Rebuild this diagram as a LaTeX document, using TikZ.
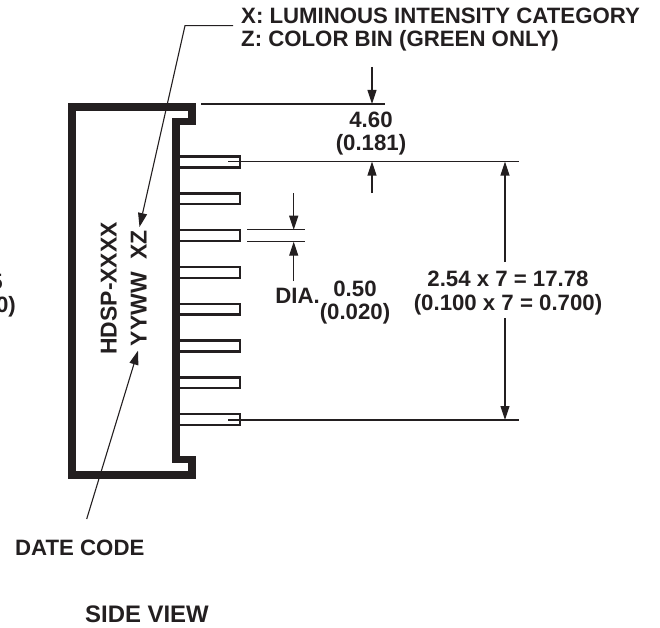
\documentclass[tikz,border=0pt]{standalone}
\usepackage{fontspec}
\setmainfont{Liberation Sans}
\usetikzlibrary{arrows.meta}
\definecolor{ink}{HTML}{231F20}
\tikzset{
  lbl/.style={font=\fontsize{22.3}{24}\bfseries\selectfont,text=ink,inner sep=0pt},
  lblbig/.style={font=\fontsize{24}{26}\bfseries\selectfont,text=ink,inner sep=0pt},
  partmark/.style={font=\fontsize{23}{25}\bfseries\selectfont,text=ink,inner sep=0pt},
  thinline/.style={draw=ink,line width=1.1bp},
  pinbox/.style={draw=ink,line width=2.3bp,fill=white},
  dimarrow/.style={draw=ink,line width=1.1bp,-{Triangle[length=14bp,width=9bp]}}
}
\begin{document}
\begin{tikzpicture}[x=1bp,y=-1bp]
\useasboundingbox (0,0) rectangle (660,628);
% body
\draw[draw=ink,line width=7.5bp,miter limit=4]
  (72,107) -- (192,107) -- (192,121.5) -- (176,121.5) -- (176,459.5) -- (192,459.5) -- (192,475) -- (72,475) -- cycle;
% pins
\foreach \c in {162,198.8,235.6,272.4,309.2,346,382.8,419.6}{
  \draw[pinbox] (180,\c-5.4) -- (240,\c-5.4) -- (240,\c+5.4) -- (180,\c+5.4);
}
% named ends
\coordinate (topA) at (201,104);
\coordinate (topB) at (385,104);
\coordinate (pinA) at (228,161.5);
\coordinate (pinB) at (519,161.5);
\coordinate (lastA) at (228,420);
\coordinate (lastB) at (519,420);
\coordinate (d1A) at (247,229.7);
\coordinate (d1B) at (305,229.7);
\coordinate (d2A) at (247,241.7);
\coordinate (d2B) at (305,241.7);
\draw[thinline] (topA) -- (topB);
\draw[thinline] (pinA) -- (pinB);
\draw[thinline] (lastA) -- (lastB);
\draw[thinline] (d1A) -- (d1B);
\draw[thinline] (d2A) -- (d2B);
% dim arrows
\coordinate (a1) at (372,67);  \coordinate (a1t) at (372,104);
\coordinate (a2) at (372,193); \coordinate (a2t) at (372,161.5);
\coordinate (a3) at (293.7,193); \coordinate (a3t) at (293.7,229.7);
\coordinate (a4) at (293.7,281); \coordinate (a4t) at (293.7,241.7);
\coordinate (b1) at (505,161.5); \coordinate (b2) at (505,420);
\coordinate (g1) at (505,262);   \coordinate (g2) at (505,318);
\draw[dimarrow] (a1) -- (a1t);
\draw[dimarrow] (a2) -- (a2t);
\draw[dimarrow] (a3) -- (a3t);
\draw[dimarrow] (a4) -- (a4t);
\draw[dimarrow] (g1) -- (b1);
\draw[dimarrow] (g2) -- (b2);
% texts
\node[lbl,anchor=base west] (xl) at (241,24) {X: LUMINOUS INTENSITY CATEGORY};
\node[lbl,anchor=base west] (zl) at (241,47) {Z: COLOR BIN (GREEN ONLY)};
\node[lbl,anchor=base] (t1) at (371,127.3) {4.60};
\node[lbl,anchor=base] (t2) at (371,151) {(0.181)};
\node[lbl,anchor=base] (dia) at (297.5,303.3) {DIA.};
\node[lbl,anchor=base] (t3) at (355,296) {0.50};
\node[lbl,anchor=base] (t4) at (355,319) {(0.020)};
\node[lbl,anchor=base] (t5) at (508,286.7) {2.54 x 7 = 17.78};
\node[lbl,anchor=base] (t6) at (508,310) {(0.100 x 7 = 0.700)};
\node[lbl,anchor=base east] (c1) at (3,289) {5};
\node[lbl,anchor=base east] (c2) at (16,312.5) {0)};
\node[lbl,anchor=base west] (dc) at (15,555) {DATE CODE};
\node[lblbig,anchor=base west] (sv) at (85,622.7) {SIDE VIEW};
\node[partmark,rotate=90,anchor=base east] (m1) at (116.5,222) {HDSP-XXXX};
\node[partmark,rotate=90,anchor=base east] (m2) at (146.5,230) {YYWW\ \ XZ};
% leaders
\coordinate (l0) at (233,25.7);
\coordinate (l1) at (185,25.7);
\coordinate (l2) at (139.5,227);
\draw[dimarrow] (l0) -- (l1) -- (l2);
\coordinate (dc1) at (86.7,519);
\coordinate (dc2) at (138,350.7);
\draw[dimarrow] (dc1) -- (dc2);
\end{tikzpicture}
\end{document}
